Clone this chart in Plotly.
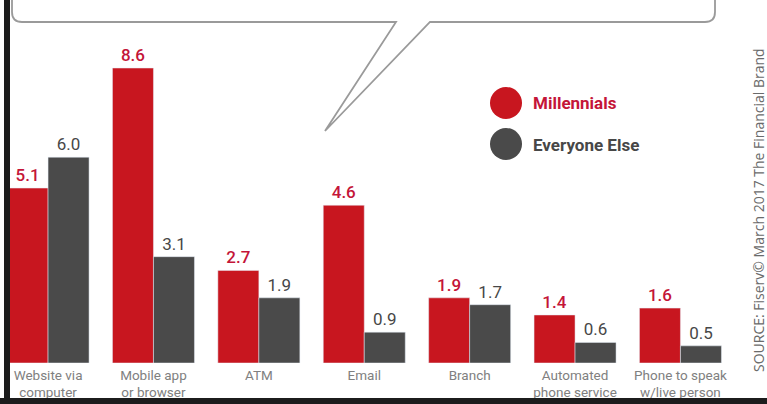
import plotly.graph_objects as go

categories = ["Website via<br>computer", "Mobile app<br>or browser", "ATM", "Email",
              "Branch", "Automated<br>phone service", "Phone to speak<br>w/live person"]
millennials = [5.1, 8.6, 2.7, 4.6, 1.9, 1.4, 1.6]
everyone_else = [6.0, 3.1, 1.9, 0.9, 1.7, 0.6, 0.5]
series_names = ["Millennials", "Everyone Else"]
source_text = "SOURCE: Fiserv© March 2017 The Financial Brand"

RED = "#c8161f"
GRAY = "#4a4a4a"
RED_TXT = "#c41538"
GRAY_TXT = "#474747"
FONT = "Roboto"

W, H = 767, 404
ML, MR, MT, MB = 0, 27, 0, 41
PW, PH = W - ML - MR, H - MT - MB


def px(x):
    return (x - ML) / PW


def py(y):
    return (H - MB - y) / PH


fig = go.Figure()
fig.add_trace(go.Bar(
    x=categories, y=millennials, name=series_names[0], marker_color=RED,
    text=[f"{v:.1f}" for v in millennials], textposition="outside",
    textfont=dict(color=RED_TXT, size=17, family=FONT, weight=500), cliponaxis=False,
))
fig.add_trace(go.Bar(
    x=categories, y=everyone_else, name=series_names[1], marker_color=GRAY,
    text=[f"{v:.1f}" for v in everyone_else], textposition="outside",
    textfont=dict(color=GRAY_TXT, size=17, family=FONT), cliponaxis=False,
))

shapes = []
# speech bubble
bubble = (f"M {px(12)},{py(-5)} L {px(12)},{py(12)} Q {px(12)},{py(22)} {px(22)},{py(22)} "
          f"L {px(396)},{py(22)} L {px(325)},{py(131)} L {px(430)},{py(22)} "
          f"L {px(705)},{py(22)} Q {px(715)},{py(22)} {px(715)},{py(12)} L {px(715)},{py(-5)}")
shapes.append(dict(type="path", xref="paper", yref="paper", path=bubble,
                   line=dict(color="#9a9a9a", width=1.8), layer="below"))
# frame
shapes.append(dict(type="rect", xref="paper", yref="paper", x0=px(4), x1=px(10),
                   y0=py(-2), y1=py(406), fillcolor="#1c1c1c", line=dict(width=0)))
shapes.append(dict(type="rect", xref="paper", yref="paper", x0=px(-2), x1=px(769),
                   y0=py(398), y1=py(406), fillcolor="#1c1c1c", line=dict(width=0)))
# legend circles
for cy, col in [(103, RED), (144, GRAY)]:
    shapes.append(dict(type="circle", xref="paper", yref="paper",
                       x0=px(490), x1=px(522), y0=py(cy + 16), y1=py(cy - 16),
                       fillcolor=col, line=dict(width=0)))

annotations = [
    dict(xref="paper", yref="paper", x=px(531), y=py(103), xanchor="left", yanchor="middle",
         text=f"<b>{series_names[0]}</b>", showarrow=False,
         font=dict(color=RED_TXT, size=17, family=FONT)),
    dict(xref="paper", yref="paper", x=px(531), y=py(145), xanchor="left", yanchor="middle",
         text=f"<b>{series_names[1]}</b>", showarrow=False,
         font=dict(color=GRAY_TXT, size=17, family=FONT)),
    dict(xref="paper", yref="paper", x=px(758), y=py(374), xanchor="center", yanchor="bottom",
         text=source_text, textangle=-90, showarrow=False,
         font=dict(color="#6a6a6a", size=14, family="Open Sans")),
]

fig.update_layout(
    width=W, height=H, margin=dict(l=ML, r=MR, t=MT, b=MB, pad=0),
    paper_bgcolor="white", plot_bgcolor="white",
    barmode="group", bargap=0.222, bargroupgap=0,
    showlegend=False, hovermode=False,
    shapes=shapes, annotations=annotations,
    xaxis=dict(range=[-0.456, 6.565], showgrid=False, zeroline=False, showline=False,
               ticks="", ticklabelstandoff=2,
               tickfont=dict(color="#808080", size=13.5, family=FONT)),
    yaxis=dict(range=[0, 363 / 34.3], visible=False, showgrid=False, zeroline=False),
)

fig.write_html("out.html")
